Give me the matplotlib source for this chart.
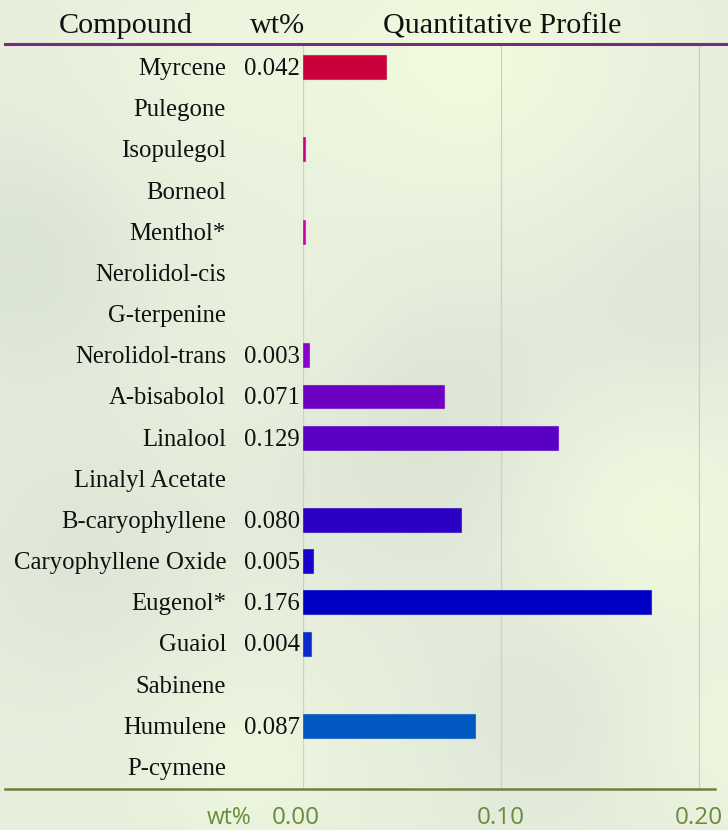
import numpy as np
import matplotlib
matplotlib.use("Agg")
import matplotlib.pyplot as plt
from matplotlib.lines import Line2D

compounds = ["Myrcene", "Pulegone", "Isopulegol", "Borneol", "Menthol*",
             "Nerolidol-cis", "G-terpenine", "Nerolidol-trans", "A-bisabolol",
             "Linalool", "Linalyl Acetate", "B-caryophyllene",
             "Caryophyllene Oxide", "Eugenol*", "Guaiol", "Sabinene",
             "Humulene", "P-cymene"]
values = [0.042, 0.0, 0.001, 0.0, 0.001, 0.0, 0.0, 0.003, 0.071, 0.129,
          0.0, 0.080, 0.005, 0.176, 0.004, 0.0, 0.087, 0.0]
value_labels = ["0.042", "", "", "", "", "", "", "0.003", "0.071", "0.129",
                "", "0.080", "0.005", "0.176", "0.004", "", "0.087", ""]
bar_colors = ["#c8003c", "#c8003c", "#cc0088", "#cc0090", "#cc00a8", "#b000c0",
              "#9800c8", "#8a00cc", "#6e00c4", "#5a00c4", "#4000c4", "#2c00c4",
              "#1a00cc", "#0000c4", "#0a2acc", "#0040c8", "#0058c0", "#0058c0"]
x_ticks = [0.0, 0.1, 0.2]
x_tick_labels = ["0.00", "0.10", "0.20"]

W, H = 728, 830
fig = plt.figure(figsize=(W / 100, H / 100), dpi=100)

# background
bg = fig.add_axes([0, 0, 1, 1], zorder=0)
yy, xx = np.mgrid[0:H:2, 0:W:2]
base = np.array([0.905, 0.935, 0.865])
field = np.zeros_like(xx, dtype=float)
blobs = [(470, 60, 120, 1.0), (650, 520, 90, 1.0), (20, 260, 90, -0.7),
         (420, 420, 110, -0.7), (80, 560, 90, -0.5), (680, 300, 90, -0.5),
         (560, 700, 100, -0.5), (250, 760, 80, 0.6), (200, 60, 100, 0.5),
         (720, 740, 70, 0.7), (300, 330, 80, 0.4)]
for cx, cy, s, a in blobs:
    field += a * np.exp(-((xx - cx) ** 2 + (yy - cy) ** 2) / (2 * s ** 2))
light = np.array([0.94, 0.98, 0.87])
dark = np.array([0.84, 0.88, 0.82])
img = np.zeros(xx.shape + (3,))
for c in range(3):
    img[..., c] = base[c] + np.clip(field, 0, None) * (light[c] - base[c]) \
        - np.clip(-field, 0, None) * (base[c] - dark[c])
bg.imshow(np.clip(img, 0, 1), extent=[0, W, H, 0], aspect="auto")
bg.set_xlim(0, W)
bg.set_ylim(H, 0)
bg.axis("off")

# main axes
x0 = 303
px_per_unit = 1980.0
top_px, bot_px = 44, 789
ax = fig.add_axes([x0 / W, 1 - bot_px / H, 1 - x0 / W, (bot_px - top_px) / H], zorder=2)
ax.patch.set_alpha(0)
n = len(compounds)
ypos = np.arange(n)
ax.set_xlim(0, (W - x0) / px_per_unit)
ax.set_ylim(17.53, -0.56)
for x in x_ticks:
    ax.axvline(x, color="#c9d2c0", lw=0.9, zorder=1)
edges = [c + "99" if v > 0 else "none" for c, v in zip(bar_colors, values)]
lws = [0.8 if v > 0 else 0 for v in values]
ax.barh(ypos, values, height=0.58, color=bar_colors, edgecolor=edges,
        linewidth=lws, zorder=3)
ax.set_yticks([])
ax.set_xticks([])
for s in ax.spines.values():
    s.set_visible(False)

serif = ["Liberation Serif", "DejaVu Serif"]
row_px = lambda i: 69 + i * (767 - 67) / 17.0
for i, (name, lab) in enumerate(zip(compounds, value_labels)):
    yf = 1 - row_px(i) / H
    fig.text(226 / W, yf, name, ha="right", va="center", fontsize=17.8, family=serif, color="#111111", zorder=3)
    if lab:
        fig.text(300 / W, yf, lab, ha="right", va="center", fontsize=17.8, family=serif, color="#111111", zorder=3)

# header
hy = 1 - 26 / H
fig.text(126 / W, hy, "Compound", ha="center", va="center", fontsize=21.7, family=serif, color="#111111")
fig.text(278 / W, hy, "wt%", ha="center", va="center", fontsize=21.7, family=serif, color="#111111")
fig.text(502 / W, hy, "Quantitative Profile", ha="center", va="center", fontsize=21.7, family=serif, color="#111111")

fig.add_artist(Line2D([5 / W, 1.0], [1 - 44 / H] * 2, color="#7a2a82", lw=2.2, zorder=4))
fig.add_artist(Line2D([5 / W, 715 / W], [1 - 789 / H] * 2, color="#6f7f3c", lw=1.8, zorder=4))

# x tick labels
green = "#6b8a3a"
ty = 1 - 818 / H
offsets = [-7, 0, 0]
for x, lab, off in zip(x_ticks, x_tick_labels, offsets):
    px = x0 + x * px_per_unit + off
    fig.text(px / W, ty, lab, ha="center", va="center", fontsize=17.5, family=["Open Sans", "DejaVu Sans"], color=green)
fig.text(229 / W, ty, "wt%", ha="center", va="center", fontsize=16.5, family=["Open Sans", "DejaVu Sans"], color=green)

fig.savefig("out.png", dpi=100)
